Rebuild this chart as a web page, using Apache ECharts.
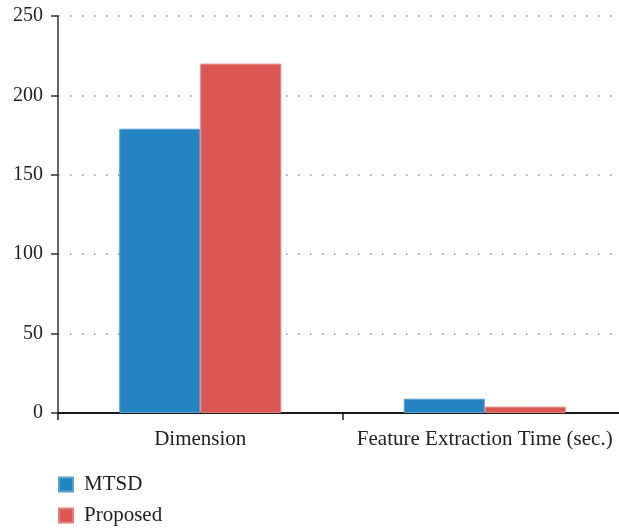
<!DOCTYPE html>
<html>
<head>
<meta charset="utf-8">
<script src="https://cdn.jsdelivr.net/npm/echarts@6/dist/echarts.min.js"></script>
<style>
  html, body { margin: 0; padding: 0; background: #fff; }
  #main { width: 619px; height: 529px; }
</style>
</head>
<body>
<div id="main"></div>
<script>
// data
const categories = ["Dimension", "Feature Extraction Time (sec.)"];
const mtsd = [179, 9];
const proposed = [220, 4];
const yTicks = { min: 0, max: 250, interval: 50 };

var chartDom = document.getElementById("main");
var myChart = echarts.init(chartDom);
var font = "'Liberation Serif', 'DejaVu Serif', serif";

var option = {
  animation: false,
  textStyle: { fontFamily: font },
  grid: { left: 58, width: 569, top: 16, height: 397, outerBoundsMode: "none", containLabel: false },
  legend: {
    orient: "vertical",
    left: 58,
    top: 474,
    padding: 0,
    itemWidth: 14,
    itemHeight: 14,
    itemGap: 10,
    icon: "rect",
    textStyle: { fontFamily: font, fontSize: 21, lineHeight: 20, color: "#222", padding: [0, 0, 0, 6] },
    data: ["MTSD", "Proposed"],
  },
  xAxis: {
    type: "category",
    data: categories,
    axisLine: { lineStyle: { color: "#1a1a1a", width: 2 } },
    axisTick: { show: true, length: 7, lineStyle: { color: "#1a1a1a", width: 1.5 } },
    axisLabel: { interval: 0, fontFamily: font, fontSize: 21, color: "#222", margin: 16 },
  },
  yAxis: {
    type: "value",
    min: yTicks.min,
    max: yTicks.max,
    interval: yTicks.interval,
    axisLine: { show: true, lineStyle: { color: "#333", width: 1.5 } },
    axisTick: { show: true, length: 7, lineStyle: { color: "#333", width: 1.5 } },
    axisLabel: { fontFamily: font, fontSize: 20, color: "#222", margin: 15 },
    splitLine: {
      show: true,
      lineStyle: { color: "#888", width: 1.5, type: [1.5, 10.5], dashOffset: -12 },
    },
  },
  series: [
    {
      name: "MTSD",
      type: "bar",
      data: mtsd,
      barWidth: 81,
      barGap: "0%",
      itemStyle: { color: "#2484c2", borderColor: "#5a9fd0", borderWidth: 1 },
    },
    {
      name: "Proposed",
      type: "bar",
      data: proposed,
      barWidth: 81,
      itemStyle: { color: "#dc5753", borderColor: "#e57f7b", borderWidth: 1 },
    },
  ],
};

option && myChart.setOption(option);
</script>
</body>
</html>
